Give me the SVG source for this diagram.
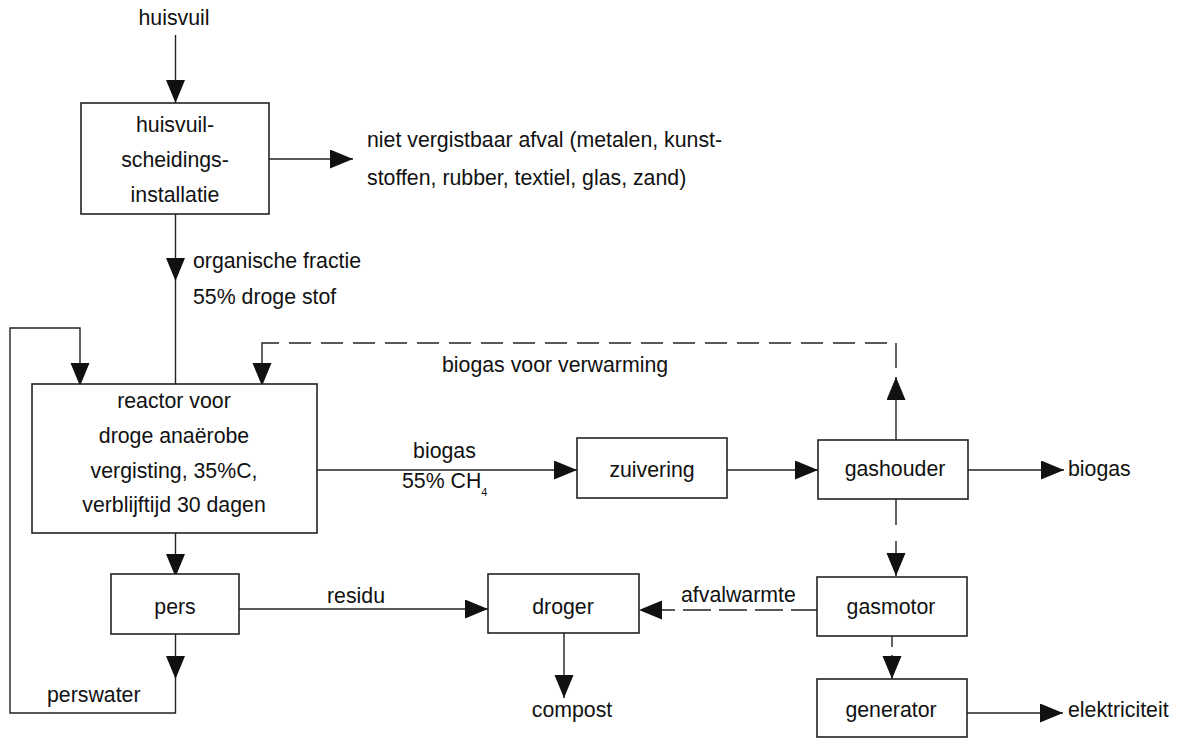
<svg xmlns="http://www.w3.org/2000/svg" width="1177" height="738" viewBox="0 0 1177 738">
<style>
text{font-family:"Liberation Sans",Arial,sans-serif;font-size:21.3px;fill:#111}
.c{text-anchor:middle}
.box{fill:#fff;stroke:#222;stroke-width:1.6}
.ln{fill:none;stroke:#222;stroke-width:1.4}
</style>
<defs>
<marker id="ah" markerUnits="userSpaceOnUse" markerWidth="24" markerHeight="20" refX="23" refY="9.5" orient="auto">
<path d="M0,0 L23,9.5 L0,19 Z" fill="#111"/>
</marker>
</defs>
<g id="connectors">
<path class="ln" d="M175.5,35 V103" marker-end="url(#ah)"/>
<path class="ln" d="M269,159 H353" marker-end="url(#ah)"/>
<path class="ln" d="M175.5,214 V281" marker-end="url(#ah)"/>
<path class="ln" d="M175.5,281 V384"/>
<path class="ln" d="M317,470 H577" marker-end="url(#ah)"/>
<path class="ln" d="M727,470 H818" marker-end="url(#ah)"/>
<path class="ln" d="M968,470 H1064" marker-end="url(#ah)"/>
<path class="ln" d="M896,440 V377" marker-end="url(#ah)"/>
<path class="ln" d="M896,368 V343 H262 V386" stroke-dasharray="25 9 22 10 22 10 22 10 22 10 22 10 22 10 22 10 22 10 22 10 22 10 22 10 22 10 22 10 22 10 22 10 22 10 22 10 22 10 22 10 300" marker-end="url(#ah)"/>
<path class="ln" d="M896,499 V576" stroke-dasharray="26 16 60" marker-end="url(#ah)"/>
<path class="ln" d="M817,610 H639" stroke-dasharray="26 8 28 8 28 8 28 8 28 8 60" marker-end="url(#ah)"/>
<path class="ln" d="M892,636 V679" stroke-dasharray="11 8 60" marker-end="url(#ah)"/>
<path class="ln" d="M967,713 H1063" marker-end="url(#ah)"/>
<path class="ln" d="M175.5,533 V577" marker-end="url(#ah)"/>
<path class="ln" d="M239,609 H488" marker-end="url(#ah)"/>
<path class="ln" d="M564,633 V698" marker-end="url(#ah)"/>
<path class="ln" d="M175.5,634 V679" marker-end="url(#ah)"/>
<path class="ln" d="M175.5,679 V713 H10 V328 H80 V386" marker-end="url(#ah)"/>
</g>
<g id="n-scheiding">
<rect class="box" x="81" y="103" width="188" height="111"/>
<text class="c" x="175" y="132">huisvuil-</text>
<text class="c" x="175" y="167">scheidings-</text>
<text class="c" x="175" y="202">installatie</text>
</g>
<g id="n-reactor">
<rect class="box" x="32" y="384" width="285" height="149"/>
<text class="c" x="174" y="407.5">reactor voor</text>
<text class="c" x="174" y="442.5">droge anaërobe</text>
<text class="c" x="174" y="477.5">vergisting, 35%C,</text>
<text class="c" x="174" y="512">verblijftijd 30 dagen</text>
</g>
<g id="n-zuivering">
<rect class="box" x="577" y="438" width="150" height="60"/>
<text class="c" x="652" y="477">zuivering</text>
</g>
<g id="n-gashouder">
<rect class="box" x="818" y="440" width="150" height="59"/>
<text class="c" x="895" y="476">gashouder</text>
</g>
<g id="n-pers">
<rect class="box" x="111" y="574" width="128" height="60"/>
<text class="c" x="175" y="614">pers</text>
</g>
<g id="n-droger">
<rect class="box" x="488" y="574" width="151" height="59"/>
<text class="c" x="563" y="614">droger</text>
</g>
<g id="n-gasmotor">
<rect class="box" x="817" y="577" width="150" height="59"/>
<text class="c" x="891" y="614">gasmotor</text>
</g>
<g id="n-generator">
<rect class="box" x="817" y="679" width="150" height="58"/>
<text class="c" x="891" y="717">generator</text>
</g>
<g id="labels">
<text class="c" x="174" y="25">huisvuil</text>
<text x="367" y="147">niet vergistbaar afval (metalen, kunst-</text>
<text x="367" y="185">stoffen, rubber, textiel, glas, zand)</text>
<text x="193" y="268">organische fractie</text>
<text x="193" y="304">55% droge stof</text>
<text x="442" y="372">biogas voor verwarming</text>
<text class="c" x="444.5" y="458">biogas</text>
<text x="402" y="488">55% CH<tspan font-size="11" dy="8">4</tspan></text>
<text x="1068" y="476">biogas</text>
<text x="327" y="603">residu</text>
<text x="681" y="602">afvalwarmte</text>
<text x="47" y="702">perswater</text>
<text class="c" x="572" y="717">compost</text>
<text x="1068" y="717">elektriciteit</text>
</g>
</svg>
